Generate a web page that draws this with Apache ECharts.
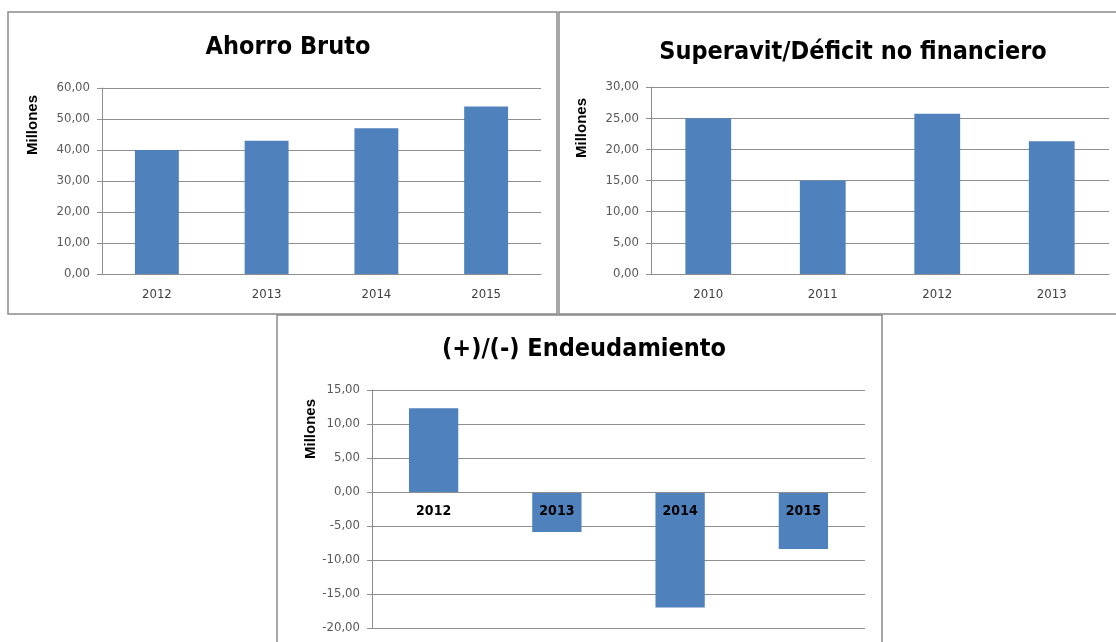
<!DOCTYPE html>
<html>
<head>
<meta charset="utf-8">
<script src="https://cdn.jsdelivr.net/npm/echarts@6/dist/echarts.min.js"></script>
<style>
  html, body { margin: 0; padding: 0; background: #fff; }
  #chart { width: 1116px; height: 642px; }
</style>
</head>
<body>
<div id="chart"></div>
<script>
// datos
var titles = ['Ahorro Bruto', 'Superavit/Déficit no financiero', '(+)/(-) Endeudamiento'];
var yearsAhorro = ['2012', '2013', '2014', '2015'];
var valAhorro = [40.0, 43.0, 47.0, 54.0];
var yearsSuperavit = ['2010', '2011', '2012', '2013'];
var valSuperavit = [25.0, 15.0, 25.7, 21.3];
var yearsEndeud = ['2012', '2013', '2014', '2015'];
var valEndeud = [12.3, -5.9, -17.0, -8.4];
// rango de los ejes Y: [min, max, intervalo]
var ejeAhorro = [0, 60, 10];
var ejeSuperavit = [0, 30, 5];
var ejeEndeud = [-20, 15, 5];

var narrow = "'Liberation Sans Narrow', 'DejaVu Sans Condensed', sans-serif";
var barColor = '#4F81BD';
var gridColor = '#8f8f8f';

var grids = [
    { left: 102, top: 88, width: 439, height: 186, outerBoundsMode: 'none' },
    { left: 651, top: 87, width: 458, height: 187, outerBoundsMode: 'none' },
    { left: 372, top: 390, width: 493, height: 238, outerBoundsMode: 'none' }
];

function fmt(v) {
    return v.toFixed(2).replace('.', ',');
}

// eje Y comun
function yAxis(idx, eje, gap, lift) {
    return {
        type: 'value', gridIndex: idx, min: eje[0], max: eje[1], interval: eje[2],
        name: 'Millones', nameLocation: 'middle', nameGap: gap,
        nameTextStyle: {
            fontFamily: "'Liberation Sans', Arial, sans-serif", fontWeight: 'bold',
            fontSize: 15, color: '#000', padding: [0, 0, 0, lift]
        },
        axisLine: { show: true, lineStyle: { color: gridColor } },
        axisTick: { show: true, length: 5, lineStyle: { color: gridColor } },
        splitLine: { lineStyle: { color: gridColor } },
        axisLabel: { formatter: fmt, fontFamily: narrow, fontSize: 13, color: '#595959', margin: 12 }
    };
}

// eje X; en el de endeudamiento la linea va en el cero
function xAxis(idx, cats, eje) {
    var bold = eje[0] < 0;
    var off = bold ? -grids[idx].height * (0 - eje[0]) / (eje[1] - eje[0]) : 0;
    return {
        type: 'category', gridIndex: idx, data: cats, offset: off, z: 5,
        axisLine: { onZero: false, lineStyle: { color: gridColor } },
        axisTick: { length: 5, lineStyle: { color: gridColor } },
        axisLabel: {
            fontFamily: narrow, fontSize: bold ? 14 : 13,
            fontWeight: bold ? 'bold' : 'normal',
            color: bold ? '#000' : '#404040', margin: bold ? 12 : 14
        }
    };
}

function title(text, x, y) {
    return {
        text: text, left: x, top: y, textAlign: 'center',
        textStyle: { fontFamily: narrow, fontWeight: 'bold', fontSize: 25, color: '#000' }
    };
}

function bars(idx, vals) {
    return {
        type: 'bar', xAxisIndex: idx, yAxisIndex: idx, data: vals,
        barWidth: '40%', itemStyle: { color: barColor }, silent: true
    };
}

var border = { stroke: '#8a8a8a', lineWidth: 1.5, fill: 'none' };

var myChart = echarts.init(document.getElementById('chart'));
myChart.setOption({
    animation: false,
    title: [
        title(titles[0], 283, 30),
        title(titles[1], 848, 35),
        title(titles[2], 579, 332)
    ],
    graphic: [
        { type: 'rect', shape: { x: 8, y: 12, width: 549, height: 302 }, style: border },
        { type: 'rect', shape: { x: 559, y: 12, width: 570, height: 302 }, style: border },
        { type: 'rect', shape: { x: 277, y: 315, width: 605, height: 340 }, style: border }
    ],
    grid: grids,
    xAxis: [
        xAxis(0, yearsAhorro, ejeAhorro),
        xAxis(1, yearsSuperavit, ejeSuperavit),
        xAxis(2, yearsEndeud, ejeEndeud)
    ],
    yAxis: [
        yAxis(0, ejeAhorro, 62, 112),
        yAxis(1, ejeSuperavit, 62, 105),
        yAxis(2, ejeEndeud, 54, 160)
    ],
    series: [
        bars(0, valAhorro),
        bars(1, valSuperavit),
        bars(2, valEndeud)
    ]
});
</script>
</body>
</html>
